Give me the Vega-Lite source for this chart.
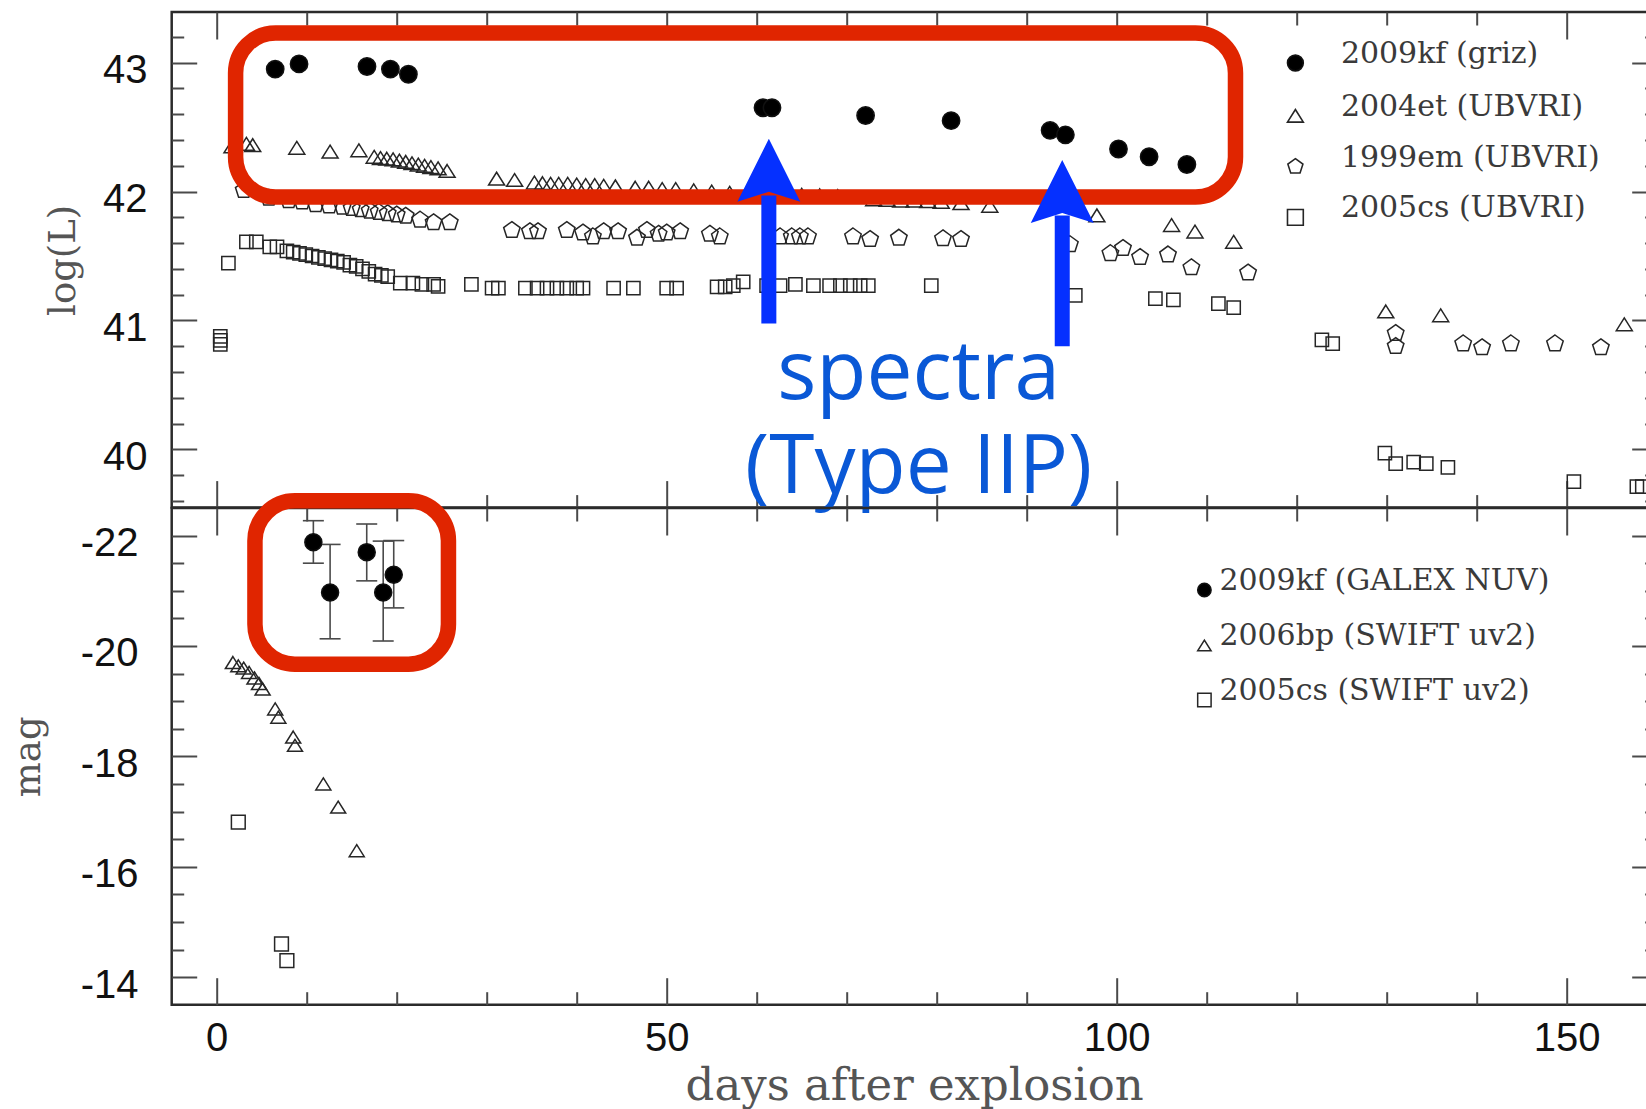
{
  "$schema": "https://vega.github.io/schema/vega-lite/v6.json",
  "background": "white",
  "padding": {"left": 7.7, "top": 9, "right": 0, "bottom": 0},
  "bounds": "flush",
  "spacing": 0,
  "datasets": {
    "kf": [
      {"sn": "2009kf (griz)", "day": 6.5, "v": 42.95},
      {"sn": "2009kf (griz)", "day": 9.15, "v": 42.99},
      {"sn": "2009kf (griz)", "day": 16.7, "v": 42.97},
      {"sn": "2009kf (griz)", "day": 19.3, "v": 42.95},
      {"sn": "2009kf (griz)", "day": 21.3, "v": 42.91},
      {"sn": "2009kf (griz)", "day": 60.7, "v": 42.65},
      {"sn": "2009kf (griz)", "day": 61.7, "v": 42.65},
      {"sn": "2009kf (griz)", "day": 72.1, "v": 42.59},
      {"sn": "2009kf (griz)", "day": 81.6, "v": 42.55},
      {"sn": "2009kf (griz)", "day": 92.6, "v": 42.475},
      {"sn": "2009kf (griz)", "day": 94.3, "v": 42.44},
      {"sn": "2009kf (griz)", "day": 100.2, "v": 42.33},
      {"sn": "2009kf (griz)", "day": 103.6, "v": 42.27},
      {"sn": "2009kf (griz)", "day": 107.8, "v": 42.21}
    ],
    "et": [
      {"sn": "2004et (UBVRI)", "day": 1.7, "v": 42.35},
      {"sn": "2004et (UBVRI)", "day": 3.3, "v": 42.37},
      {"sn": "2004et (UBVRI)", "day": 4.0, "v": 42.36},
      {"sn": "2004et (UBVRI)", "day": 8.9, "v": 42.34},
      {"sn": "2004et (UBVRI)", "day": 12.6, "v": 42.31},
      {"sn": "2004et (UBVRI)", "day": 15.8, "v": 42.32},
      {"sn": "2004et (UBVRI)", "day": 17.5, "v": 42.27},
      {"sn": "2004et (UBVRI)", "day": 18.2, "v": 42.26},
      {"sn": "2004et (UBVRI)", "day": 18.9, "v": 42.255},
      {"sn": "2004et (UBVRI)", "day": 19.6, "v": 42.25},
      {"sn": "2004et (UBVRI)", "day": 20.3, "v": 42.24},
      {"sn": "2004et (UBVRI)", "day": 21.0, "v": 42.23},
      {"sn": "2004et (UBVRI)", "day": 21.7, "v": 42.22},
      {"sn": "2004et (UBVRI)", "day": 22.4, "v": 42.21},
      {"sn": "2004et (UBVRI)", "day": 23.1, "v": 42.2},
      {"sn": "2004et (UBVRI)", "day": 23.8, "v": 42.19},
      {"sn": "2004et (UBVRI)", "day": 24.6, "v": 42.18},
      {"sn": "2004et (UBVRI)", "day": 25.6, "v": 42.16},
      {"sn": "2004et (UBVRI)", "day": 31.1, "v": 42.10},
      {"sn": "2004et (UBVRI)", "day": 33.1, "v": 42.09},
      {"sn": "2004et (UBVRI)", "day": 35.3, "v": 42.07},
      {"sn": "2004et (UBVRI)", "day": 36.2, "v": 42.065},
      {"sn": "2004et (UBVRI)", "day": 37.1, "v": 42.06},
      {"sn": "2004et (UBVRI)", "day": 38.0, "v": 42.06},
      {"sn": "2004et (UBVRI)", "day": 39.0, "v": 42.06},
      {"sn": "2004et (UBVRI)", "day": 40.0, "v": 42.055},
      {"sn": "2004et (UBVRI)", "day": 41.0, "v": 42.05},
      {"sn": "2004et (UBVRI)", "day": 42.0, "v": 42.05},
      {"sn": "2004et (UBVRI)", "day": 43.0, "v": 42.045},
      {"sn": "2004et (UBVRI)", "day": 44.3, "v": 42.04},
      {"sn": "2004et (UBVRI)", "day": 46.5, "v": 42.03},
      {"sn": "2004et (UBVRI)", "day": 48.0, "v": 42.03},
      {"sn": "2004et (UBVRI)", "day": 49.5, "v": 42.02},
      {"sn": "2004et (UBVRI)", "day": 51.0, "v": 42.02},
      {"sn": "2004et (UBVRI)", "day": 53.0, "v": 42.01},
      {"sn": "2004et (UBVRI)", "day": 55.0, "v": 42.0},
      {"sn": "2004et (UBVRI)", "day": 57.0, "v": 41.99},
      {"sn": "2004et (UBVRI)", "day": 59.0, "v": 41.985},
      {"sn": "2004et (UBVRI)", "day": 63.0, "v": 41.98},
      {"sn": "2004et (UBVRI)", "day": 65.0, "v": 41.975},
      {"sn": "2004et (UBVRI)", "day": 67.0, "v": 41.97},
      {"sn": "2004et (UBVRI)", "day": 69.0, "v": 41.965},
      {"sn": "2004et (UBVRI)", "day": 73.0, "v": 41.94},
      {"sn": "2004et (UBVRI)", "day": 74.5, "v": 41.935},
      {"sn": "2004et (UBVRI)", "day": 76.0, "v": 41.93},
      {"sn": "2004et (UBVRI)", "day": 77.5, "v": 41.93},
      {"sn": "2004et (UBVRI)", "day": 79.0, "v": 41.925},
      {"sn": "2004et (UBVRI)", "day": 80.5, "v": 41.92},
      {"sn": "2004et (UBVRI)", "day": 82.7, "v": 41.91},
      {"sn": "2004et (UBVRI)", "day": 85.9, "v": 41.89},
      {"sn": "2004et (UBVRI)", "day": 97.8, "v": 41.815},
      {"sn": "2004et (UBVRI)", "day": 106.1, "v": 41.74},
      {"sn": "2004et (UBVRI)", "day": 108.7, "v": 41.69},
      {"sn": "2004et (UBVRI)", "day": 113.0, "v": 41.61},
      {"sn": "2004et (UBVRI)", "day": 129.9, "v": 41.07},
      {"sn": "2004et (UBVRI)", "day": 136.0, "v": 41.04},
      {"sn": "2004et (UBVRI)", "day": 156.4, "v": 40.97}
    ],
    "em": [
      {"sn": "1999em (UBVRI)", "day": 3.0, "v": 42.01},
      {"sn": "1999em (UBVRI)", "day": 5.8, "v": 41.95},
      {"sn": "1999em (UBVRI)", "day": 8.0, "v": 41.93},
      {"sn": "1999em (UBVRI)", "day": 9.5, "v": 41.92},
      {"sn": "1999em (UBVRI)", "day": 11.0, "v": 41.90},
      {"sn": "1999em (UBVRI)", "day": 12.5, "v": 41.89},
      {"sn": "1999em (UBVRI)", "day": 14.0, "v": 41.88},
      {"sn": "1999em (UBVRI)", "day": 15.0, "v": 41.87},
      {"sn": "1999em (UBVRI)", "day": 16.0, "v": 41.86},
      {"sn": "1999em (UBVRI)", "day": 17.0, "v": 41.85},
      {"sn": "1999em (UBVRI)", "day": 18.0, "v": 41.84},
      {"sn": "1999em (UBVRI)", "day": 19.0, "v": 41.83},
      {"sn": "1999em (UBVRI)", "day": 20.0, "v": 41.82},
      {"sn": "1999em (UBVRI)", "day": 21.0, "v": 41.81},
      {"sn": "1999em (UBVRI)", "day": 22.6, "v": 41.78},
      {"sn": "1999em (UBVRI)", "day": 24.1, "v": 41.76},
      {"sn": "1999em (UBVRI)", "day": 25.9, "v": 41.76},
      {"sn": "1999em (UBVRI)", "day": 32.8, "v": 41.70},
      {"sn": "1999em (UBVRI)", "day": 34.8, "v": 41.69},
      {"sn": "1999em (UBVRI)", "day": 35.7, "v": 41.69},
      {"sn": "1999em (UBVRI)", "day": 38.9, "v": 41.70},
      {"sn": "1999em (UBVRI)", "day": 40.7, "v": 41.68},
      {"sn": "1999em (UBVRI)", "day": 41.8, "v": 41.65},
      {"sn": "1999em (UBVRI)", "day": 43.0, "v": 41.69},
      {"sn": "1999em (UBVRI)", "day": 44.6, "v": 41.69},
      {"sn": "1999em (UBVRI)", "day": 46.7, "v": 41.64},
      {"sn": "1999em (UBVRI)", "day": 47.8, "v": 41.70},
      {"sn": "1999em (UBVRI)", "day": 49.1, "v": 41.67},
      {"sn": "1999em (UBVRI)", "day": 50.0, "v": 41.68},
      {"sn": "1999em (UBVRI)", "day": 51.5, "v": 41.69},
      {"sn": "1999em (UBVRI)", "day": 54.8, "v": 41.67},
      {"sn": "1999em (UBVRI)", "day": 55.9, "v": 41.65},
      {"sn": "1999em (UBVRI)", "day": 62.6, "v": 41.65},
      {"sn": "1999em (UBVRI)", "day": 63.9, "v": 41.65},
      {"sn": "1999em (UBVRI)", "day": 64.8, "v": 41.65},
      {"sn": "1999em (UBVRI)", "day": 65.7, "v": 41.65},
      {"sn": "1999em (UBVRI)", "day": 70.7, "v": 41.65},
      {"sn": "1999em (UBVRI)", "day": 72.6, "v": 41.63},
      {"sn": "1999em (UBVRI)", "day": 75.8, "v": 41.64},
      {"sn": "1999em (UBVRI)", "day": 80.7, "v": 41.635},
      {"sn": "1999em (UBVRI)", "day": 82.7, "v": 41.63},
      {"sn": "1999em (UBVRI)", "day": 94.8, "v": 41.59},
      {"sn": "1999em (UBVRI)", "day": 99.3, "v": 41.52},
      {"sn": "1999em (UBVRI)", "day": 100.7, "v": 41.56},
      {"sn": "1999em (UBVRI)", "day": 102.6, "v": 41.49},
      {"sn": "1999em (UBVRI)", "day": 105.7, "v": 41.51},
      {"sn": "1999em (UBVRI)", "day": 108.3, "v": 41.41},
      {"sn": "1999em (UBVRI)", "day": 114.6, "v": 41.37},
      {"sn": "1999em (UBVRI)", "day": 131.0, "v": 40.90},
      {"sn": "1999em (UBVRI)", "day": 131.0, "v": 40.80},
      {"sn": "1999em (UBVRI)", "day": 138.5, "v": 40.82},
      {"sn": "1999em (UBVRI)", "day": 140.6, "v": 40.79},
      {"sn": "1999em (UBVRI)", "day": 143.8, "v": 40.82},
      {"sn": "1999em (UBVRI)", "day": 148.7, "v": 40.82},
      {"sn": "1999em (UBVRI)", "day": 153.8, "v": 40.79}
    ],
    "cs": [
      {"sn": "2005cs (UBVRI)", "day": 0.4, "v": 40.877},
      {"sn": "2005cs (UBVRI)", "day": 0.4, "v": 40.846},
      {"sn": "2005cs (UBVRI)", "day": 0.4, "v": 40.815},
      {"sn": "2005cs (UBVRI)", "day": 1.3, "v": 41.445},
      {"sn": "2005cs (UBVRI)", "day": 3.3, "v": 41.61},
      {"sn": "2005cs (UBVRI)", "day": 4.4, "v": 41.61},
      {"sn": "2005cs (UBVRI)", "day": 5.9, "v": 41.57},
      {"sn": "2005cs (UBVRI)", "day": 6.7, "v": 41.57},
      {"sn": "2005cs (UBVRI)", "day": 7.8, "v": 41.54},
      {"sn": "2005cs (UBVRI)", "day": 8.5, "v": 41.53},
      {"sn": "2005cs (UBVRI)", "day": 9.2, "v": 41.52},
      {"sn": "2005cs (UBVRI)", "day": 9.9, "v": 41.51},
      {"sn": "2005cs (UBVRI)", "day": 10.6, "v": 41.50},
      {"sn": "2005cs (UBVRI)", "day": 11.3, "v": 41.49},
      {"sn": "2005cs (UBVRI)", "day": 12.0, "v": 41.48},
      {"sn": "2005cs (UBVRI)", "day": 12.7, "v": 41.47},
      {"sn": "2005cs (UBVRI)", "day": 13.4, "v": 41.46},
      {"sn": "2005cs (UBVRI)", "day": 14.1, "v": 41.45},
      {"sn": "2005cs (UBVRI)", "day": 14.8, "v": 41.43},
      {"sn": "2005cs (UBVRI)", "day": 15.5, "v": 41.42},
      {"sn": "2005cs (UBVRI)", "day": 16.2, "v": 41.40},
      {"sn": "2005cs (UBVRI)", "day": 16.9, "v": 41.38},
      {"sn": "2005cs (UBVRI)", "day": 17.6, "v": 41.36},
      {"sn": "2005cs (UBVRI)", "day": 18.3, "v": 41.35},
      {"sn": "2005cs (UBVRI)", "day": 19.0, "v": 41.34},
      {"sn": "2005cs (UBVRI)", "day": 20.4, "v": 41.29},
      {"sn": "2005cs (UBVRI)", "day": 21.8, "v": 41.29},
      {"sn": "2005cs (UBVRI)", "day": 22.8, "v": 41.28},
      {"sn": "2005cs (UBVRI)", "day": 24.1, "v": 41.28},
      {"sn": "2005cs (UBVRI)", "day": 24.6, "v": 41.265},
      {"sn": "2005cs (UBVRI)", "day": 28.3, "v": 41.28},
      {"sn": "2005cs (UBVRI)", "day": 30.6, "v": 41.25},
      {"sn": "2005cs (UBVRI)", "day": 31.3, "v": 41.25},
      {"sn": "2005cs (UBVRI)", "day": 34.3, "v": 41.25},
      {"sn": "2005cs (UBVRI)", "day": 35.6, "v": 41.25},
      {"sn": "2005cs (UBVRI)", "day": 36.7, "v": 41.25},
      {"sn": "2005cs (UBVRI)", "day": 37.8, "v": 41.25},
      {"sn": "2005cs (UBVRI)", "day": 38.9, "v": 41.25},
      {"sn": "2005cs (UBVRI)", "day": 40.0, "v": 41.25},
      {"sn": "2005cs (UBVRI)", "day": 40.7, "v": 41.25},
      {"sn": "2005cs (UBVRI)", "day": 44.1, "v": 41.25},
      {"sn": "2005cs (UBVRI)", "day": 46.3, "v": 41.25},
      {"sn": "2005cs (UBVRI)", "day": 50.0, "v": 41.25},
      {"sn": "2005cs (UBVRI)", "day": 51.1, "v": 41.25},
      {"sn": "2005cs (UBVRI)", "day": 55.6, "v": 41.26},
      {"sn": "2005cs (UBVRI)", "day": 56.5, "v": 41.26},
      {"sn": "2005cs (UBVRI)", "day": 57.4, "v": 41.27},
      {"sn": "2005cs (UBVRI)", "day": 58.5, "v": 41.30},
      {"sn": "2005cs (UBVRI)", "day": 61.1, "v": 41.27},
      {"sn": "2005cs (UBVRI)", "day": 62.6, "v": 41.27},
      {"sn": "2005cs (UBVRI)", "day": 64.3, "v": 41.28},
      {"sn": "2005cs (UBVRI)", "day": 66.3, "v": 41.27},
      {"sn": "2005cs (UBVRI)", "day": 68.1, "v": 41.27},
      {"sn": "2005cs (UBVRI)", "day": 69.3, "v": 41.27},
      {"sn": "2005cs (UBVRI)", "day": 70.4, "v": 41.27},
      {"sn": "2005cs (UBVRI)", "day": 71.5, "v": 41.27},
      {"sn": "2005cs (UBVRI)", "day": 72.4, "v": 41.27},
      {"sn": "2005cs (UBVRI)", "day": 79.4, "v": 41.27},
      {"sn": "2005cs (UBVRI)", "day": 95.4, "v": 41.195},
      {"sn": "2005cs (UBVRI)", "day": 104.3, "v": 41.17},
      {"sn": "2005cs (UBVRI)", "day": 106.3, "v": 41.16},
      {"sn": "2005cs (UBVRI)", "day": 111.3, "v": 41.13},
      {"sn": "2005cs (UBVRI)", "day": 113.0, "v": 41.10},
      {"sn": "2005cs (UBVRI)", "day": 122.8, "v": 40.85},
      {"sn": "2005cs (UBVRI)", "day": 124.0, "v": 40.82},
      {"sn": "2005cs (UBVRI)", "day": 129.8, "v": 39.97},
      {"sn": "2005cs (UBVRI)", "day": 131.0, "v": 39.89},
      {"sn": "2005cs (UBVRI)", "day": 133.0, "v": 39.90},
      {"sn": "2005cs (UBVRI)", "day": 134.4, "v": 39.89},
      {"sn": "2005cs (UBVRI)", "day": 136.8, "v": 39.86},
      {"sn": "2005cs (UBVRI)", "day": 150.8, "v": 39.75},
      {"sn": "2005cs (UBVRI)", "day": 157.8, "v": 39.71},
      {"sn": "2005cs (UBVRI)", "day": 158.4, "v": 39.71}
    ],
    "kf2": [
      {"sn2": "2009kf (GALEX NUV)", "day": 10.74, "mag": -21.88, "lo": -22.27, "hi": -21.50},
      {"sn2": "2009kf (GALEX NUV)", "day": 12.6, "mag": -20.97, "lo": -21.84, "hi": -20.13},
      {"sn2": "2009kf (GALEX NUV)", "day": 16.67, "mag": -21.70, "lo": -22.21, "hi": -21.18},
      {"sn2": "2009kf (GALEX NUV)", "day": 18.5, "mag": -20.97, "lo": -21.90, "hi": -20.09},
      {"sn2": "2009kf (GALEX NUV)", "day": 19.67, "mag": -21.29, "lo": -21.91, "hi": -20.69}
    ],
    "bp": [
      {"sn2": "2006bp (SWIFT uv2)", "day": 1.8, "mag": -19.70},
      {"sn2": "2006bp (SWIFT uv2)", "day": 2.4, "mag": -19.64},
      {"sn2": "2006bp (SWIFT uv2)", "day": 3.0, "mag": -19.60},
      {"sn2": "2006bp (SWIFT uv2)", "day": 3.6, "mag": -19.52},
      {"sn2": "2006bp (SWIFT uv2)", "day": 4.2, "mag": -19.42},
      {"sn2": "2006bp (SWIFT uv2)", "day": 4.7, "mag": -19.32},
      {"sn2": "2006bp (SWIFT uv2)", "day": 5.1, "mag": -19.22},
      {"sn2": "2006bp (SWIFT uv2)", "day": 6.5, "mag": -18.86},
      {"sn2": "2006bp (SWIFT uv2)", "day": 6.85, "mag": -18.71},
      {"sn2": "2006bp (SWIFT uv2)", "day": 8.5, "mag": -18.35},
      {"sn2": "2006bp (SWIFT uv2)", "day": 8.7, "mag": -18.20},
      {"sn2": "2006bp (SWIFT uv2)", "day": 11.85, "mag": -17.50},
      {"sn2": "2006bp (SWIFT uv2)", "day": 13.5, "mag": -17.08},
      {"sn2": "2006bp (SWIFT uv2)", "day": 15.56, "mag": -16.29}
    ],
    "cs2": [
      {"sn2": "2005cs (SWIFT uv2)", "day": 2.4, "mag": -16.81},
      {"sn2": "2005cs (SWIFT uv2)", "day": 7.2, "mag": -14.60},
      {"sn2": "2005cs (SWIFT uv2)", "day": 7.8, "mag": -14.30}
    ]
  },
  "vconcat": [
    {
      "width": 1485,
      "height": 495.6,
      "resolve": {"scale": {"x": "shared", "y": "shared"}, "axis": {"x": "independent", "y": "independent"}},
      "layer": [
        {
          "data": {"name": "kf"},
          "mark": {"type": "point", "size": 300, "strokeWidth": 1.5, "opacity": 1},
          "encoding": {
            "x": {"field": "day", "type": "quantitative", "scale": {"domain": [-5, 160], "nice": false, "zero": false},
                  "axis": {"orient": "bottom", "values": [0, 50, 100, 150], "labels": false, "tickSize": -27, "title": null}},
            "y": {"field": "v", "type": "quantitative", "scale": {"domain": [39.548, 43.393], "nice": false, "zero": false},
                  "axis": {"orient": "left", "values": [40, 41, 42, 43], "ticks": false, "labelPadding": 24.7, "labelOffset": 8, "title": "log(L)", "titlePadding": 20}},
            "shape": {"field": "sn", "type": "nominal",
                      "scale": {"domain": ["2009kf (griz)", "2004et (UBVRI)", "1999em (UBVRI)", "2005cs (UBVRI)"], "range": ["circle", "M0,-0.8L1,0.8L-1,0.8Z", "M0,-1L0.951,-0.309L0.588,0.809L-0.588,0.809L-0.951,-0.309Z", "square"]},
                      "legend": {"title": null, "orient": "none", "legendX": 1108.7, "legendY": 36, "padding": 0, "labelFont": "DejaVu Serif", "labelFontSize": 30, "labelColor": "#3a3a3a", "labelOffset": 30.5, "rowPadding": 16.8, "symbolSize": 250, "symbolStrokeWidth": 1.6, "labelBaseline": "alphabetic", "labelLimit": 0}},
            "fill": {"field": "sn", "type": "nominal",
                     "scale": {"domain": ["2009kf (griz)", "2004et (UBVRI)", "1999em (UBVRI)", "2005cs (UBVRI)"], "range": ["#000000", "transparent", "transparent", "transparent"]},
                     "legend": {"title": null, "orient": "none", "legendX": 1108.7, "legendY": 36, "padding": 0, "labelFont": "DejaVu Serif", "labelFontSize": 30, "labelColor": "#3a3a3a", "labelOffset": 30.5, "rowPadding": 16.8, "symbolSize": 250, "symbolStrokeWidth": 1.6, "labelBaseline": "alphabetic", "labelLimit": 0}},
            "stroke": {"field": "sn", "type": "nominal",
                     "scale": {"domain": ["2009kf (griz)", "2004et (UBVRI)", "1999em (UBVRI)", "2005cs (UBVRI)"], "range": ["#111111", "#262626", "#262626", "#262626"]},
                     "legend": {"title": null, "orient": "none", "legendX": 1108.7, "legendY": 36, "padding": 0, "labelFont": "DejaVu Serif", "labelFontSize": 30, "labelColor": "#3a3a3a", "labelOffset": 30.5, "rowPadding": 16.8, "symbolSize": 250, "symbolStrokeWidth": 1.6, "labelBaseline": "alphabetic", "labelLimit": 0}}
          }
        },
        {
          "data": {"name": "et"},
          "mark": {"type": "point", "size": 256, "strokeWidth": 1.5, "opacity": 1},
          "encoding": {
            "x": {"field": "day", "type": "quantitative", "scale": {"domain": [-5, 160], "nice": false, "zero": false},
                  "axis": {"orient": "bottom", "values": [10, 20, 30, 40, 60, 70, 80, 90, 110, 120, 130, 140], "labels": false, "tickSize": -13, "title": null}},
            "y": {"field": "v", "type": "quantitative", "scale": {"domain": [39.548, 43.393], "nice": false, "zero": false},
                  "axis": {"orient": "left", "values": [40, 41, 42, 43], "labels": false, "tickSize": -25, "title": null}},
            "shape": {"field": "sn", "type": "nominal",
                      "scale": {"domain": ["2009kf (griz)", "2004et (UBVRI)", "1999em (UBVRI)", "2005cs (UBVRI)"], "range": ["circle", "M0,-0.8L1,0.8L-1,0.8Z", "M0,-1L0.951,-0.309L0.588,0.809L-0.588,0.809L-0.951,-0.309Z", "square"]},
                      "legend": {"title": null, "orient": "none", "legendX": 1108.7, "legendY": 36, "padding": 0, "labelFont": "DejaVu Serif", "labelFontSize": 30, "labelColor": "#3a3a3a", "labelOffset": 30.5, "rowPadding": 16.8, "symbolSize": 250, "symbolStrokeWidth": 1.6, "labelBaseline": "alphabetic", "labelLimit": 0}},
            "fill": {"field": "sn", "type": "nominal",
                     "scale": {"domain": ["2009kf (griz)", "2004et (UBVRI)", "1999em (UBVRI)", "2005cs (UBVRI)"], "range": ["#000000", "transparent", "transparent", "transparent"]},
                     "legend": {"title": null, "orient": "none", "legendX": 1108.7, "legendY": 36, "padding": 0, "labelFont": "DejaVu Serif", "labelFontSize": 30, "labelColor": "#3a3a3a", "labelOffset": 30.5, "rowPadding": 16.8, "symbolSize": 250, "symbolStrokeWidth": 1.6, "labelBaseline": "alphabetic", "labelLimit": 0}},
            "stroke": {"field": "sn", "type": "nominal",
                     "scale": {"domain": ["2009kf (griz)", "2004et (UBVRI)", "1999em (UBVRI)", "2005cs (UBVRI)"], "range": ["#111111", "#262626", "#262626", "#262626"]},
                     "legend": {"title": null, "orient": "none", "legendX": 1108.7, "legendY": 36, "padding": 0, "labelFont": "DejaVu Serif", "labelFontSize": 30, "labelColor": "#3a3a3a", "labelOffset": 30.5, "rowPadding": 16.8, "symbolSize": 250, "symbolStrokeWidth": 1.6, "labelBaseline": "alphabetic", "labelLimit": 0}}
          }
        },
        {
          "data": {"name": "em"},
          "mark": {"type": "point", "size": 300, "strokeWidth": 1.5, "opacity": 1},
          "encoding": {
            "x": {"field": "day", "type": "quantitative", "scale": {"domain": [-5, 160], "nice": false, "zero": false},
                  "axis": {"orient": "top", "values": [0, 50, 100, 150], "labels": false, "tickSize": -27, "title": null}},
            "y": {"field": "v", "type": "quantitative", "scale": {"domain": [39.548, 43.393], "nice": false, "zero": false},
                  "axis": {"orient": "left", "values": [39.6, 39.8, 40.2, 40.4, 40.6, 40.8, 41.2, 41.4, 41.6, 41.8, 42.2, 42.4, 42.6, 42.8, 43.2], "labels": false, "tickSize": -12, "title": null}},
            "shape": {"field": "sn", "type": "nominal",
                      "scale": {"domain": ["2009kf (griz)", "2004et (UBVRI)", "1999em (UBVRI)", "2005cs (UBVRI)"], "range": ["circle", "M0,-0.8L1,0.8L-1,0.8Z", "M0,-1L0.951,-0.309L0.588,0.809L-0.588,0.809L-0.951,-0.309Z", "square"]},
                      "legend": {"title": null, "orient": "none", "legendX": 1108.7, "legendY": 36, "padding": 0, "labelFont": "DejaVu Serif", "labelFontSize": 30, "labelColor": "#3a3a3a", "labelOffset": 30.5, "rowPadding": 16.8, "symbolSize": 250, "symbolStrokeWidth": 1.6, "labelBaseline": "alphabetic", "labelLimit": 0}},
            "fill": {"field": "sn", "type": "nominal",
                     "scale": {"domain": ["2009kf (griz)", "2004et (UBVRI)", "1999em (UBVRI)", "2005cs (UBVRI)"], "range": ["#000000", "transparent", "transparent", "transparent"]},
                     "legend": {"title": null, "orient": "none", "legendX": 1108.7, "legendY": 36, "padding": 0, "labelFont": "DejaVu Serif", "labelFontSize": 30, "labelColor": "#3a3a3a", "labelOffset": 30.5, "rowPadding": 16.8, "symbolSize": 250, "symbolStrokeWidth": 1.6, "labelBaseline": "alphabetic", "labelLimit": 0}},
            "stroke": {"field": "sn", "type": "nominal",
                     "scale": {"domain": ["2009kf (griz)", "2004et (UBVRI)", "1999em (UBVRI)", "2005cs (UBVRI)"], "range": ["#111111", "#262626", "#262626", "#262626"]},
                     "legend": {"title": null, "orient": "none", "legendX": 1108.7, "legendY": 36, "padding": 0, "labelFont": "DejaVu Serif", "labelFontSize": 30, "labelColor": "#3a3a3a", "labelOffset": 30.5, "rowPadding": 16.8, "symbolSize": 250, "symbolStrokeWidth": 1.6, "labelBaseline": "alphabetic", "labelLimit": 0}}
          }
        },
        {
          "data": {"name": "cs"},
          "mark": {"type": "point", "size": 175, "strokeWidth": 1.5, "opacity": 1},
          "encoding": {
            "x": {"field": "day", "type": "quantitative", "scale": {"domain": [-5, 160], "nice": false, "zero": false},
                  "axis": {"orient": "top", "values": [10, 20, 30, 40, 60, 70, 80, 90, 110, 120, 130, 140], "labels": false, "tickSize": -13, "title": null}},
            "y": {"field": "v", "type": "quantitative", "scale": {"domain": [39.548, 43.393], "nice": false, "zero": false},
                  "axis": {"orient": "right", "values": [40, 41, 42, 43], "labels": false, "tickSize": -25, "title": null}},
            "shape": {"field": "sn", "type": "nominal",
                      "scale": {"domain": ["2009kf (griz)", "2004et (UBVRI)", "1999em (UBVRI)", "2005cs (UBVRI)"], "range": ["circle", "M0,-0.8L1,0.8L-1,0.8Z", "M0,-1L0.951,-0.309L0.588,0.809L-0.588,0.809L-0.951,-0.309Z", "square"]},
                      "legend": {"title": null, "orient": "none", "legendX": 1108.7, "legendY": 36, "padding": 0, "labelFont": "DejaVu Serif", "labelFontSize": 30, "labelColor": "#3a3a3a", "labelOffset": 30.5, "rowPadding": 16.8, "symbolSize": 250, "symbolStrokeWidth": 1.6, "labelBaseline": "alphabetic", "labelLimit": 0}},
            "fill": {"field": "sn", "type": "nominal",
                     "scale": {"domain": ["2009kf (griz)", "2004et (UBVRI)", "1999em (UBVRI)", "2005cs (UBVRI)"], "range": ["#000000", "transparent", "transparent", "transparent"]},
                     "legend": {"title": null, "orient": "none", "legendX": 1108.7, "legendY": 36, "padding": 0, "labelFont": "DejaVu Serif", "labelFontSize": 30, "labelColor": "#3a3a3a", "labelOffset": 30.5, "rowPadding": 16.8, "symbolSize": 250, "symbolStrokeWidth": 1.6, "labelBaseline": "alphabetic", "labelLimit": 0}},
            "stroke": {"field": "sn", "type": "nominal",
                     "scale": {"domain": ["2009kf (griz)", "2004et (UBVRI)", "1999em (UBVRI)", "2005cs (UBVRI)"], "range": ["#111111", "#262626", "#262626", "#262626"]},
                     "legend": {"title": null, "orient": "none", "legendX": 1108.7, "legendY": 36, "padding": 0, "labelFont": "DejaVu Serif", "labelFontSize": 30, "labelColor": "#3a3a3a", "labelOffset": 30.5, "rowPadding": 16.8, "symbolSize": 250, "symbolStrokeWidth": 1.6, "labelBaseline": "alphabetic", "labelLimit": 0}}
          }
        },
        {
          "data": {"values": [{}]},
          "mark": {"type": "rect", "filled": false, "stroke": "#E02500", "strokeWidth": 15.5, "cornerRadius": 40, "opacity": 1},
          "encoding": {
            "x": {"datum": 2.1, "type": "quantitative", "scale": {"domain": [-5, 160], "nice": false, "zero": false}, "axis": null},
            "x2": {"datum": 113.2},
            "y": {"datum": 43.23, "type": "quantitative", "scale": {"domain": [39.548, 43.393], "nice": false, "zero": false},
                  "axis": {"orient": "right", "values": [39.6, 39.8, 40.2, 40.4, 40.6, 40.8, 41.2, 41.4, 41.6, 41.8, 42.2, 42.4, 42.6, 42.8, 43.2], "labels": false, "tickSize": -12, "title": null}},
            "y2": {"datum": 41.957}
          }
        },
        {
          "data": {"values": [{}]},
          "mark": {"type": "rule", "color": "#0530FF", "strokeWidth": 15, "strokeCap": "butt"},
          "encoding": {
            "x": {"datum": 61.35, "type": "quantitative", "axis": null},
            "y": {"datum": 41.97, "type": "quantitative", "axis": null},
            "y2": {"datum": 40.977}
          }
        },
        {
          "data": {"values": [{}]},
          "mark": {"type": "rule", "color": "#0530FF", "strokeWidth": 15, "strokeCap": "butt"},
          "encoding": {
            "x": {"datum": 93.95, "type": "quantitative", "axis": null},
            "y": {"datum": 41.815, "type": "quantitative", "axis": null},
            "y2": {"datum": 40.80}
          }
        },
        {
          "data": {"values": [{}]},
          "mark": {"type": "point", "shape": "M0,-1L1,1L0,0.68L-1,1Z", "size": 3969, "filled": true, "color": "#0530FF", "strokeWidth": 0, "opacity": 1},
          "encoding": {
            "x": {"datum": 61.35, "type": "quantitative", "axis": null},
            "y": {"datum": 42.165, "type": "quantitative", "axis": null}
          }
        },
        {
          "data": {"values": [{}]},
          "mark": {"type": "point", "shape": "M0,-1L1,1L0,0.68L-1,1Z", "size": 3969, "filled": true, "color": "#0530FF", "strokeWidth": 0, "opacity": 1},
          "encoding": {
            "x": {"datum": 93.95, "type": "quantitative", "axis": null},
            "y": {"datum": 42.0, "type": "quantitative", "axis": null}
          }
        },
        {
          "data": {"values": [{}]},
          "mark": {"type": "text", "text": ["spectra", "(Type IIP)"], "lineHeight": 94, "font": "Open Sans", "fontSize": 82, "color": "#0A58D6", "align": "center", "baseline": "alphabetic"},
          "encoding": {
            "x": {"datum": 78.0, "type": "quantitative", "axis": null},
            "y": {"datum": 40.388, "type": "quantitative", "axis": null}
          }
        }
      ]
    },
    {
      "width": 1485,
      "height": 496.7,
      "resolve": {"scale": {"x": "shared", "y": "shared"}, "axis": {"x": "independent", "y": "independent"}},
      "layer": [
        {
          "data": {"name": "kf2"},
          "mark": {"type": "rule", "color": "#4a4a4a", "strokeWidth": 1.6},
          "encoding": {
            "x": {"field": "day", "type": "quantitative", "scale": {"domain": [-5, 160], "nice": false, "zero": false},
                  "axis": {"orient": "bottom", "values": [0, 50, 100, 150], "ticks": false, "labelPadding": 14, "labelFlush": false, "title": "days after explosion", "titleFontSize": 45, "titlePadding": 5}},
            "y": {"field": "lo", "type": "quantitative", "scale": {"domain": [-22.5, -13.5], "nice": false, "zero": false, "reverse": true},
                  "axis": {"orient": "left", "values": [-22, -20, -18, -16, -14], "ticks": false, "labelPadding": 33.7, "labelOffset": 8, "labelExpr": "'' + datum.value", "title": "mag", "titlePadding": 33}},
            "y2": {"field": "hi"}
          }
        },
        {
          "data": {"name": "kf2"},
          "mark": {"type": "tick", "orient": "horizontal", "color": "#4a4a4a", "size": 21, "thickness": 1.6, "opacity": 1},
          "encoding": {
            "x": {"field": "day", "type": "quantitative", "scale": {"domain": [-5, 160], "nice": false, "zero": false},
                  "axis": {"orient": "bottom", "values": [0, 50, 100, 150], "labels": false, "tickSize": -27, "title": null}},
            "y": {"field": "lo", "type": "quantitative", "scale": {"domain": [-22.5, -13.5], "nice": false, "zero": false, "reverse": true},
                  "axis": {"orient": "left", "values": [-22, -20, -18, -16, -14], "labels": false, "tickSize": -25, "title": null}}
          }
        },
        {
          "data": {"name": "kf2"},
          "mark": {"type": "tick", "orient": "horizontal", "color": "#4a4a4a", "size": 21, "thickness": 1.6, "opacity": 1},
          "encoding": {
            "x": {"field": "day", "type": "quantitative", "scale": {"domain": [-5, 160], "nice": false, "zero": false},
                  "axis": {"orient": "bottom", "values": [10, 20, 30, 40, 60, 70, 80, 90, 110, 120, 130, 140], "labels": false, "tickSize": -13, "title": null}},
            "y": {"field": "hi", "type": "quantitative", "scale": {"domain": [-22.5, -13.5], "nice": false, "zero": false, "reverse": true},
                  "axis": {"orient": "left", "values": [-21.5, -21, -20.5, -19.5, -19, -18.5, -17.5, -17, -16.5, -15.5, -15, -14.5], "labels": false, "tickSize": -12, "title": null}}
          }
        },
        {
          "data": {"name": "kf2"},
          "mark": {"type": "point", "size": 290, "strokeWidth": 1.5, "opacity": 1},
          "encoding": {
            "x": {"field": "day", "type": "quantitative", "scale": {"domain": [-5, 160], "nice": false, "zero": false},
                  "axis": {"orient": "top", "values": [0, 50, 100, 150], "labels": false, "tickSize": -27, "title": null}},
            "y": {"field": "mag", "type": "quantitative", "scale": {"domain": [-22.5, -13.5], "nice": false, "zero": false, "reverse": true},
                  "axis": {"orient": "right", "values": [-22, -20, -18, -16, -14], "labels": false, "tickSize": -25, "title": null}},
            "shape": {"field": "sn2", "type": "nominal",
                      "scale": {"domain": ["2009kf (GALEX NUV)", "2006bp (SWIFT uv2)", "2005cs (SWIFT uv2)"], "range": ["circle", "M0,-0.8L1,0.8L-1,0.8Z", "square"]},
                      "legend": {"title": null, "orient": "none", "legendX": 1017.7, "legendY": 67, "padding": 0, "labelFont": "DejaVu Serif", "labelFontSize": 30, "labelColor": "#3a3a3a", "labelOffset": 0, "rowPadding": 21.5, "symbolSize": 180, "symbolStrokeWidth": 1.5, "labelBaseline": "alphabetic", "labelLimit": 0}},
            "fill": {"field": "sn2", "type": "nominal",
                     "scale": {"domain": ["2009kf (GALEX NUV)", "2006bp (SWIFT uv2)", "2005cs (SWIFT uv2)"], "range": ["#000000", "transparent", "transparent"]},
                     "legend": {"title": null, "orient": "none", "legendX": 1017.7, "legendY": 67, "padding": 0, "labelFont": "DejaVu Serif", "labelFontSize": 30, "labelColor": "#3a3a3a", "labelOffset": 0, "rowPadding": 21.5, "symbolSize": 180, "symbolStrokeWidth": 1.5, "labelBaseline": "alphabetic", "labelLimit": 0}},
            "stroke": {"field": "sn2", "type": "nominal",
                     "scale": {"domain": ["2009kf (GALEX NUV)", "2006bp (SWIFT uv2)", "2005cs (SWIFT uv2)"], "range": ["#111111", "#262626", "#262626"]},
                     "legend": {"title": null, "orient": "none", "legendX": 1017.7, "legendY": 67, "padding": 0, "labelFont": "DejaVu Serif", "labelFontSize": 30, "labelColor": "#3a3a3a", "labelOffset": 0, "rowPadding": 21.5, "symbolSize": 180, "symbolStrokeWidth": 1.5, "labelBaseline": "alphabetic", "labelLimit": 0}}
          }
        },
        {
          "data": {"name": "bp"},
          "mark": {"type": "point", "size": 225, "strokeWidth": 1.5, "opacity": 1},
          "encoding": {
            "x": {"field": "day", "type": "quantitative", "scale": {"domain": [-5, 160], "nice": false, "zero": false},
                  "axis": {"orient": "top", "values": [10, 20, 30, 40, 60, 70, 80, 90, 110, 120, 130, 140], "labels": false, "tickSize": -13, "title": null}},
            "y": {"field": "mag", "type": "quantitative", "scale": {"domain": [-22.5, -13.5], "nice": false, "zero": false, "reverse": true},
                  "axis": {"orient": "right", "values": [-21.5, -21, -20.5, -19.5, -19, -18.5, -17.5, -17, -16.5, -15.5, -15, -14.5], "labels": false, "tickSize": -12, "title": null}},
            "shape": {"field": "sn2", "type": "nominal",
                      "scale": {"domain": ["2009kf (GALEX NUV)", "2006bp (SWIFT uv2)", "2005cs (SWIFT uv2)"], "range": ["circle", "M0,-0.8L1,0.8L-1,0.8Z", "square"]},
                      "legend": {"title": null, "orient": "none", "legendX": 1017.7, "legendY": 67, "padding": 0, "labelFont": "DejaVu Serif", "labelFontSize": 30, "labelColor": "#3a3a3a", "labelOffset": 0, "rowPadding": 21.5, "symbolSize": 180, "symbolStrokeWidth": 1.5, "labelBaseline": "alphabetic", "labelLimit": 0}},
            "fill": {"field": "sn2", "type": "nominal",
                     "scale": {"domain": ["2009kf (GALEX NUV)", "2006bp (SWIFT uv2)", "2005cs (SWIFT uv2)"], "range": ["#000000", "transparent", "transparent"]},
                     "legend": {"title": null, "orient": "none", "legendX": 1017.7, "legendY": 67, "padding": 0, "labelFont": "DejaVu Serif", "labelFontSize": 30, "labelColor": "#3a3a3a", "labelOffset": 0, "rowPadding": 21.5, "symbolSize": 180, "symbolStrokeWidth": 1.5, "labelBaseline": "alphabetic", "labelLimit": 0}},
            "stroke": {"field": "sn2", "type": "nominal",
                     "scale": {"domain": ["2009kf (GALEX NUV)", "2006bp (SWIFT uv2)", "2005cs (SWIFT uv2)"], "range": ["#111111", "#262626", "#262626"]},
                     "legend": {"title": null, "orient": "none", "legendX": 1017.7, "legendY": 67, "padding": 0, "labelFont": "DejaVu Serif", "labelFontSize": 30, "labelColor": "#3a3a3a", "labelOffset": 0, "rowPadding": 21.5, "symbolSize": 180, "symbolStrokeWidth": 1.5, "labelBaseline": "alphabetic", "labelLimit": 0}}
          }
        },
        {
          "data": {"name": "cs2"},
          "mark": {"type": "point", "size": 190, "strokeWidth": 1.5, "opacity": 1},
          "encoding": {
            "x": {"field": "day", "type": "quantitative", "scale": {"domain": [-5, 160], "nice": false, "zero": false}, "axis": null},
            "y": {"field": "mag", "type": "quantitative", "scale": {"domain": [-22.5, -13.5], "nice": false, "zero": false, "reverse": true}, "axis": null},
            "shape": {"field": "sn2", "type": "nominal",
                      "scale": {"domain": ["2009kf (GALEX NUV)", "2006bp (SWIFT uv2)", "2005cs (SWIFT uv2)"], "range": ["circle", "M0,-0.8L1,0.8L-1,0.8Z", "square"]},
                      "legend": {"title": null, "orient": "none", "legendX": 1017.7, "legendY": 67, "padding": 0, "labelFont": "DejaVu Serif", "labelFontSize": 30, "labelColor": "#3a3a3a", "labelOffset": 0, "rowPadding": 21.5, "symbolSize": 180, "symbolStrokeWidth": 1.5, "labelBaseline": "alphabetic", "labelLimit": 0}},
            "fill": {"field": "sn2", "type": "nominal",
                     "scale": {"domain": ["2009kf (GALEX NUV)", "2006bp (SWIFT uv2)", "2005cs (SWIFT uv2)"], "range": ["#000000", "transparent", "transparent"]},
                     "legend": {"title": null, "orient": "none", "legendX": 1017.7, "legendY": 67, "padding": 0, "labelFont": "DejaVu Serif", "labelFontSize": 30, "labelColor": "#3a3a3a", "labelOffset": 0, "rowPadding": 21.5, "symbolSize": 180, "symbolStrokeWidth": 1.5, "labelBaseline": "alphabetic", "labelLimit": 0}},
            "stroke": {"field": "sn2", "type": "nominal",
                     "scale": {"domain": ["2009kf (GALEX NUV)", "2006bp (SWIFT uv2)", "2005cs (SWIFT uv2)"], "range": ["#111111", "#262626", "#262626"]},
                     "legend": {"title": null, "orient": "none", "legendX": 1017.7, "legendY": 67, "padding": 0, "labelFont": "DejaVu Serif", "labelFontSize": 30, "labelColor": "#3a3a3a", "labelOffset": 0, "rowPadding": 21.5, "symbolSize": 180, "symbolStrokeWidth": 1.5, "labelBaseline": "alphabetic", "labelLimit": 0}}
          }
        },
        {
          "data": {"values": [{}]},
          "mark": {"type": "rect", "filled": false, "stroke": "#E02500", "strokeWidth": 15.5, "cornerRadius": 40, "opacity": 1},
          "encoding": {
            "x": {"datum": 4.25, "type": "quantitative", "axis": null},
            "x2": {"datum": 25.75},
            "y": {"datum": -22.63, "type": "quantitative", "axis": null},
            "y2": {"datum": -19.67}
          }
        }
      ]
    }
  ],
  "resolve": {
    "scale": {"shape": "independent", "fill": "independent", "stroke": "independent"},
    "legend": {"shape": "independent", "fill": "independent", "stroke": "independent"}
  },
  "config": {
    "view": {"stroke": "#2b2b2b", "strokeWidth": 2.5},
    "axis": {
      "grid": false, "domain": false, "tickColor": "#4a4a4a", "tickWidth": 2,
      "labelFont": "Liberation Sans", "labelFontSize": 40, "labelColor": "#111111",
      "titleFont": "DejaVu Serif", "titleFontWeight": "normal", "titleFontSize": 37, "titleColor": "#555555"
    }
  }
}
